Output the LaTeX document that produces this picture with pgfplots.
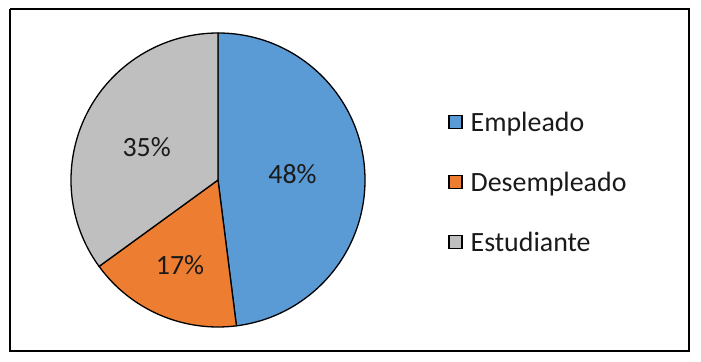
\documentclass[border=0pt]{standalone}
\usepackage{pgfplots}
\pgfplotsset{compat=1.18}
\usepackage{pgfplotstable}
\usepackage{fontspec}
\setmainfont{Carlito}
\definecolor{cEmp}{HTML}{5B9BD5}
\definecolor{cDes}{HTML}{ED7D31}
\definecolor{cEst}{HTML}{BFBFBF}
\definecolor{txt}{HTML}{1A1A1A}
\pgfplotstableread{
label value
Empleado 48
Desempleado 17
Estudiante 35
}\piedata
\begin{document}
\begin{tikzpicture}
\pgfplotstablegetelem{0}{value}\of\piedata \let\vA\pgfplotsretval
\pgfplotstablegetelem{1}{value}\of\piedata \let\vB\pgfplotsretval
\pgfplotstablegetelem{2}{value}\of\piedata \let\vC\pgfplotsretval
\pgfmathsetmacro\aA{90}
\pgfmathsetmacro\aB{90-3.6*\vA}
\pgfmathsetmacro\aC{\aB-3.6*\vB}
\pgfmathsetmacro\aD{\aC-3.6*\vC}
\begin{axis}[
  width=701bp, height=362bp, scale only axis,
  xmin=0, xmax=701, ymin=0, ymax=362,
  axis lines=none, clip=false,
  legend cell align=left,
  legend style={draw=none, fill=none, at={(axis cs:445,177)}, anchor=west,
    font=\fontsize{28}{34}\selectfont\color{txt},
    nodes={text height=19bp, text depth=6bp},
    row sep=31bp,
    /tikz/every odd column/.append style={column sep=6bp}},
]
\path (axis cs:0,0) rectangle (axis cs:701,362);
\addplot[forget plot, black, line width=1.3bp] coordinates {(10,353) (689,353) (689,11) (10,11) (10,353)};
\filldraw[fill=cEmp, draw=black, line width=1.3bp, line join=round] (axis cs:218,182) -- ++(\aA:147bp) arc[start angle=\aA, end angle=\aB, radius=147bp] -- cycle;
\filldraw[fill=cDes, draw=black, line width=1.3bp, line join=round] (axis cs:218,182) -- ++(\aB:147bp) arc[start angle=\aB, end angle=\aC, radius=147bp] -- cycle;
\filldraw[fill=cEst, draw=black, line width=1.3bp, line join=round] (axis cs:218,182) -- ++(\aC:147bp) arc[start angle=\aC, end angle=\aD, radius=147bp] -- cycle;
\node[anchor=base, font=\fontsize{28}{34}\selectfont, text=txt] at (axis cs:292.5,178.7) {48\%};
\node[anchor=base, font=\fontsize{28}{34}\selectfont, text=txt] at (axis cs:180,87) {17\%};
\node[anchor=base, font=\fontsize{28}{34}\selectfont, text=txt] at (axis cs:146.7,205.3) {35\%};
\addlegendimage{legend image code/.code={\draw[fill=cEmp, draw=black, line width=1.5bp] (0bp,-3.5bp) rectangle (13bp,9.5bp);}}
\addlegendentry{Empleado}
\addlegendimage{legend image code/.code={\draw[fill=cDes, draw=black, line width=1.5bp] (0bp,-3.5bp) rectangle (13bp,9.5bp);}}
\addlegendentry{Desempleado}
\addlegendimage{legend image code/.code={\draw[fill=cEst, draw=black, line width=1.5bp] (0bp,-3.5bp) rectangle (13bp,9.5bp);}}
\addlegendentry{Estudiante}
\end{axis}
\end{tikzpicture}
\end{document}
